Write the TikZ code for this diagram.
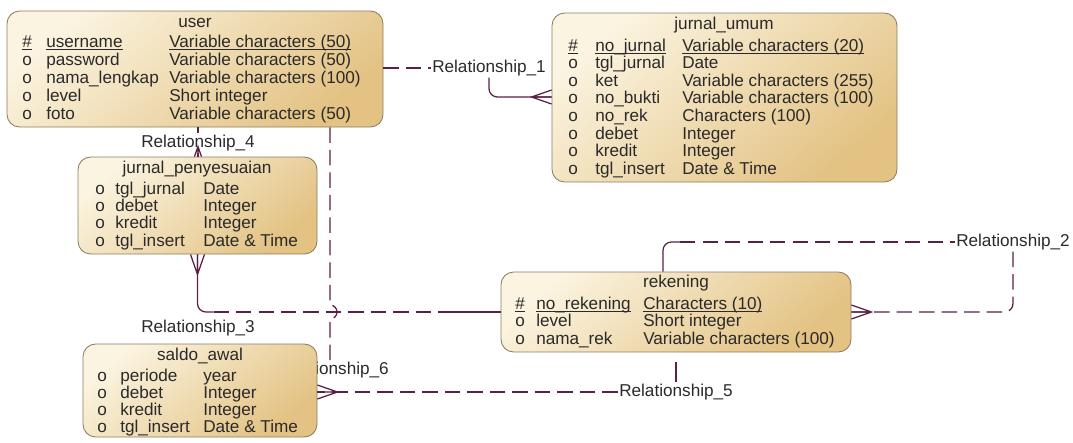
\documentclass[tikz,border=0pt]{standalone}
\usepackage{fontspec}
\setmainfont{Liberation Sans}
\usetikzlibrary{fit,calc}
\definecolor{erlight}{HTML}{FBF4E0}
\definecolor{erdark}{HTML}{E3C283}
\definecolor{erborder}{HTML}{8C7D60}
\definecolor{relcol}{HTML}{5A2148}
\definecolor{txtcol}{HTML}{2A2A2A}
\newcommand{\keyline}[1]{\underline{\smash{#1}}}
\begin{document}
\begin{tikzpicture}[x=0.025cm, y=-0.025cm,
    entity/.style={draw=erborder, line width=0.6pt, rounded corners=9pt,
      top color=erlight, bottom color=erdark, shading angle=40, inner sep=0pt},
    etitle/.style={font=\fontsize{12.2}{14}\selectfont, text=txtcol, inner sep=0pt, anchor=base},
    attr/.style={font=\fontsize{12.2}{14}\selectfont, text=txtcol, inner sep=0pt, anchor=base west},
    rel/.style={font=\fontsize{12.2}{14}\selectfont, text=txtcol, inner sep=1pt},
    relline/.style={draw=relcol, line width=0.9pt, rounded corners=6pt},
    reldash/.style={relline, dash pattern=on 11pt off 5pt},
    crow/.pic={\draw[relcol, line width=0.9pt] (0,-7) -- (20,0) -- (0,7) (0,0) -- (20,0);}]
    \useasboundingbox (0,0) rectangle (1073,442);

    % label of relationship_6 lies under saldo_awal
    \node[rel] (r6) at (332,370) {Relationship\_6};

    % user
    \node[entity, fit={(7,11) (383,127)}] (user) {};
    \node[etitle] (user-t) at (195,27) {user};
    \foreach \mk/\nm/\tp [count=\i from 0] in {
        \keyline{\#}/\keyline{username}/\keyline{Variable characters (50)},
        o/password/Variable characters (50),
        o/nama\_lengkap/Variable characters (100),
        o/level/Short integer,
        o/foto/Variable characters (50)}{
        \node[attr] (user-m\i) at (22,{47+18*\i}) {\mk};
        \node[attr] (user-n\i) at (46,{47+18*\i}) {\nm};
        \node[attr] (user-t\i) at (169,{47+18*\i}) {\tp};
    }

    % jurnal_umum
    \node[entity, fit={(552,13) (897,182)}] (ju) {};
    \node[etitle] (ju-t) at (724,29) {jurnal\_umum};
    \foreach \mk/\nm/\tp [count=\i from 0] in {
        \keyline{\#}/\keyline{no\_jurnal}/\keyline{Variable characters (20)},
        o/tgl\_jurnal/Date,
        o/ket/Variable characters (255),
        o/no\_bukti/Variable characters (100),
        o/no\_rek/Characters (100),
        o/debet/Integer,
        o/kredit/Integer,
        o/tgl\_insert/Date \& Time}{
        \node[attr] (ju-m\i) at (568,{51+17.6*\i}) {\mk};
        \node[attr] (ju-n\i) at (595,{51+17.6*\i}) {\nm};
        \node[attr] (ju-t\i) at (682,{51+17.6*\i}) {\tp};
    }

    % jurnal_penyesuaian
    \node[entity, fit={(78,157) (317,254)}] (jp) {};
    \node[etitle] (jp-t) at (197,173) {jurnal\_penyesuaian};
    \foreach \mk/\nm/\tp [count=\i from 0] in {
        o/tgl\_jurnal/Date,
        o/debet/Integer,
        o/kredit/Integer,
        o/tgl\_insert/Date \& Time}{
        \node[attr] (jp-m\i) at (95,{194+17.4*\i}) {\mk};
        \node[attr] (jp-n\i) at (115,{194+17.4*\i}) {\nm};
        \node[attr] (jp-t\i) at (203,{194+17.4*\i}) {\tp};
    }

    % rekening
    \node[entity, fit={(501,272) (851,352)}] (rek) {};
    \node[etitle] (rek-t) at (676,287) {rekening};
    \foreach \mk/\nm/\tp [count=\i from 0] in {
        \keyline{\#}/\keyline{no\_rekening}/\keyline{Characters (10)},
        o/level/Short integer,
        o/nama\_rek/Variable characters (100)}{
        \node[attr] (rek-m\i) at (515,{309+17.5*\i}) {\mk};
        \node[attr] (rek-n\i) at (536,{309+17.5*\i}) {\nm};
        \node[attr] (rek-t\i) at (643,{309+17.5*\i}) {\tp};
    }

    % saldo_awal
    \node[entity, fit={(83,344) (317,437)}] (saldo) {};
    \node[etitle] (saldo-t) at (200,360) {saldo\_awal};
    \foreach \mk/\nm/\tp [count=\i from 0] in {
        o/periode/year,
        o/debet/Integer,
        o/kredit/Integer,
        o/tgl\_insert/Date \& Time}{
        \node[attr] (saldo-m\i) at (97,{381+17*\i}) {\mk};
        \node[attr] (saldo-n\i) at (120,{381+17*\i}) {\nm};
        \node[attr] (saldo-t\i) at (203,{381+17*\i}) {\tp};
    }

    % relationship labels
    \node[rel] (r1) at (489,68) {Relationship\_1};
    \node[rel] (r2) at (1013,242) {Relationship\_2};
    \node[rel] (r3) at (198,328) {Relationship\_3};
    \node[rel] (r4) at (198,143) {Relationship\_4};
    \node[rel] (r5) at (676,392) {Relationship\_5};
    \coordinate (hop) at (330,312);
    \coordinate (r1y) at (0,97);

    % user -- jurnal_umum
    \draw[reldash] (user.east |- r1) -- (r1.west);
    \draw[relline] (r1.south) |- (ju.west |- r1y);
    \pic[rotate=180] at (ju.west |- r1y) {crow};

    % user -- jurnal_penyesuaian
    \draw[relline] (user.south -| r4) -- (r4.north);
    \draw[relline] (r4.south) -- (jp.north -| r4);
    \pic[scale=0.5, rotate=90] at (jp.north -| r4) {crow};

    % user -- saldo_awal
    \draw[reldash, sharp corners] (user.south -| hop) -- ($(hop)+(0,-7)$)
        arc[start angle=-90, end angle=90, radius=7] -- (r6.north -| hop);

    % jurnal_penyesuaian -- rekening
    \draw[relline] (jp.south) |- ($(jp.south |- hop)+(16,0)$);
    \draw[reldash] ($(jp.south |- hop)+(16,0)$) -- ($(rek.west |- hop)+(-48,0)$);
    \draw[relline] ($(rek.west |- hop)+(-48,0)$) -- (rek.west |- hop);
    \pic[rotate=-90] at (jp.south) {crow};

    % rekening -- rekening
    \draw[relline] ($(rek.north)+(-13,0)$) |- ($(rek.north |- r2)+(4,0)$);
    \draw[reldash] ($(rek.north |- r2)+(4,0)$) -- (r2.west);
    \draw[reldash] (r2.south) |- (rek.east);
    \pic at (rek.east) {crow};

    % rekening -- saldo_awal
    \draw[relline, shorten <=7pt] (rek.south -| r5) -- (r5.north);
    \draw[reldash] (r5.west) -- (saldo.east |- r5);
    \pic at (saldo.east |- r5) {crow};
\end{tikzpicture}
\end{document}
